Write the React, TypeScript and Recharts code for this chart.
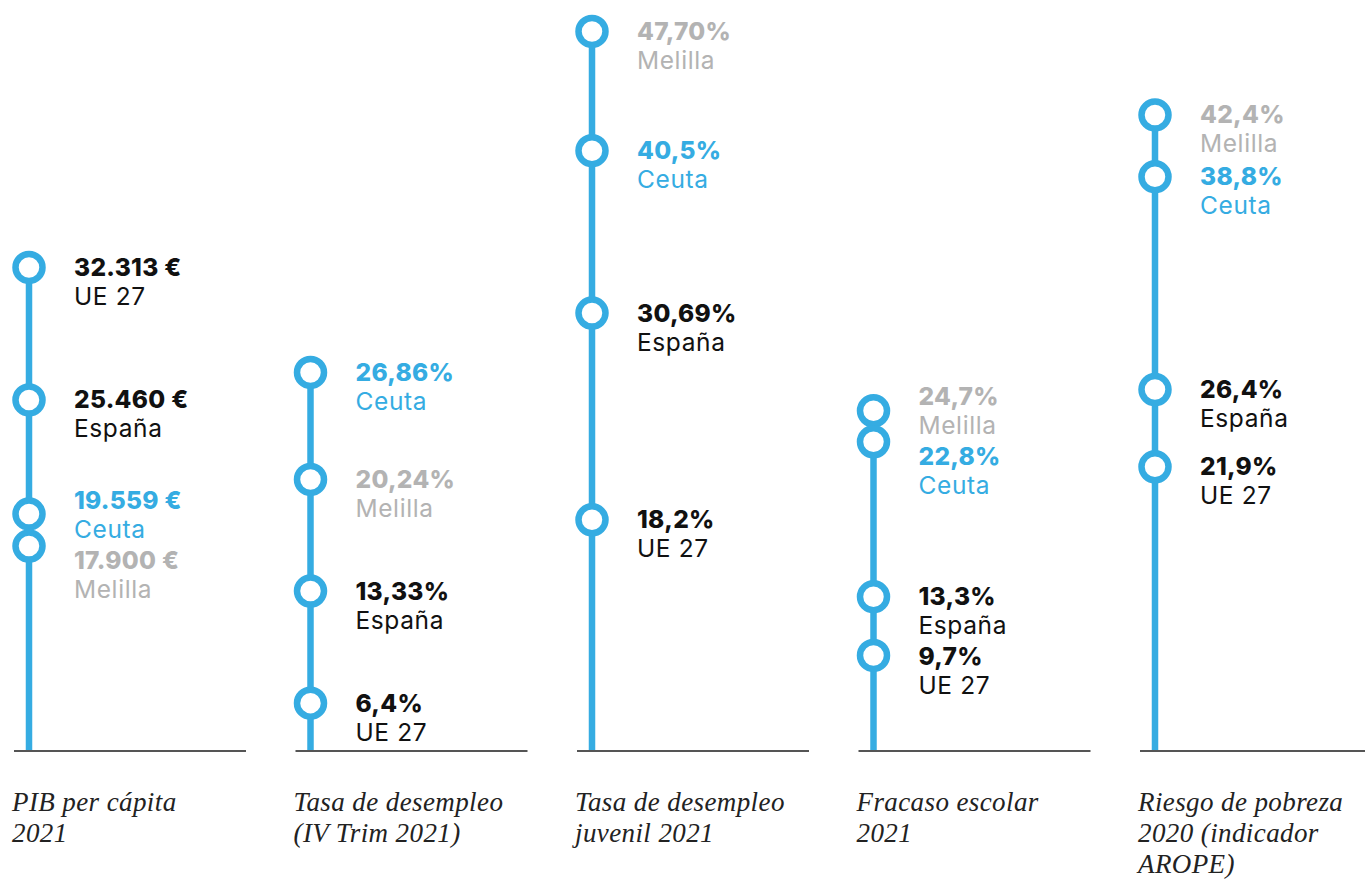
import React from 'react';
import { ComposedChart, Scatter, XAxis, YAxis, ReferenceLine } from 'recharts';

// panel titles (x ticks), one array of lines per panel
const CATEGORIES = [
  ['PIB per cápita', '2021'],
  ['Tasa de desempleo', '(IV Trim 2021)'],
  ['Tasa de desempleo', 'juvenil 2021'],
  ['Fracaso escolar', '2021'],
  ['Riesgo de pobreza', '2020 (indicador', 'AROPE)'],
];

const PIB_VALUES = [32313, 25460, 19559, 17900];
const PIB_LABELS = ['32.313 €', '25.460 €', '19.559 €', '17.900 €'];
const PIB_NAMES = ['UE 27', 'España', 'Ceuta', 'Melilla'];

const PARO_VALUES = [26.86, 20.24, 13.33, 6.4];
const PARO_LABELS = ['26,86%', '20,24%', '13,33%', '6,4%'];
const PARO_NAMES = ['Ceuta', 'Melilla', 'España', 'UE 27'];

const JUVENIL_VALUES = [47.7, 40.5, 30.69, 18.2];
const JUVENIL_LABELS = ['47,70%', '40,5%', '30,69%', '18,2%'];
const JUVENIL_NAMES = ['Melilla', 'Ceuta', 'España', 'UE 27'];

const FRACASO_VALUES = [24.7, 22.8, 13.3, 9.7];
const FRACASO_LABELS = ['24,7%', '22,8%', '13,3%', '9,7%'];
const FRACASO_NAMES = ['Melilla', 'Ceuta', 'España', 'UE 27'];

const AROPE_VALUES = [42.4, 38.8, 26.4, 21.9];
const AROPE_LABELS = ['42,4%', '38,8%', '26,4%', '21,9%'];
const AROPE_NAMES = ['Melilla', 'Ceuta', 'España', 'UE 27'];

// each panel has its own vertical scale
const DOMAINS = [
  [7350, 46150],
  [3.5, 49.9],
  [4.3, 49.6],
  [3.9, 49.9],
  [5.4, 49.1],
];

const BLUE = '#35ace2';
const NAME_COLORS: Record<string, string> = {
  Ceuta: BLUE,
  Melilla: '#b3b3b3',
  España: '#111111',
  'UE 27': '#111111',
};

const W = 1365;
const H = 879;
const AXIS_H = 129;
const PLOT_H = H - AXIS_H;
const LABEL_GAP = 60;

// push apart labels of points that sit too close together
function dodgeOffsets(values: number[], domain: number[], plotH: number, minGap: number) {
  const [lo, hi] = domain;
  const ys = values.map((v) => (plotH * (hi - v)) / (hi - lo));
  const order = ys.map((_, i) => i).sort((a, b) => ys[a] - ys[b]);
  let groups = order.map((i) => [i]);
  const place = (g: number[]) => {
    const c = g.reduce((s, i) => s + ys[i], 0) / g.length;
    return g.map((_, j) => c + (j - (g.length - 1) / 2) * minGap);
  };
  let merged = true;
  while (merged) {
    merged = false;
    for (let k = 0; k < groups.length - 1; k++) {
      const a = place(groups[k]);
      const b = place(groups[k + 1]);
      if (b[0] - a[a.length - 1] < minGap) {
        groups.splice(k, 2, groups[k].concat(groups[k + 1]));
        merged = true;
        break;
      }
    }
  }
  const offsets = new Array(values.length).fill(0);
  groups.forEach((g) => {
    const p = place(g);
    g.forEach((i, j) => {
      offsets[i] = p[j] - ys[i];
    });
  });
  return offsets;
}

const PANELS = [
  { values: PIB_VALUES, labels: PIB_LABELS, names: PIB_NAMES },
  { values: PARO_VALUES, labels: PARO_LABELS, names: PARO_NAMES },
  { values: JUVENIL_VALUES, labels: JUVENIL_LABELS, names: JUVENIL_NAMES },
  { values: FRACASO_VALUES, labels: FRACASO_LABELS, names: FRACASO_NAMES },
  { values: AROPE_VALUES, labels: AROPE_LABELS, names: AROPE_NAMES },
].map((p, slot) => {
  const shifts = dodgeOffsets(p.values, DOMAINS[slot], PLOT_H, LABEL_GAP);
  return p.values.map((value, i) => ({
    slot,
    value,
    label: p.labels[i],
    name: p.names[i],
    color: NAME_COLORS[p.names[i]],
    shift: shifts[i],
  }));
});

const Marker = (props: any) => {
  const { cx, cy, payload } = props;
  const ly = cy + payload.shift;
  return (
    <g>
      <circle cx={cx} cy={cy} r={13.5} fill="#fff" stroke={BLUE} strokeWidth={6.5} />
      <text
        x={cx + 45}
        y={ly + 8.5}
        fontFamily="Inter"
        fontWeight={800}
        fontSize={24.5}
        letterSpacing={0.3}
        fill={payload.color}
      >
        {payload.label}
      </text>
      <text x={cx + 45} y={ly + 37.5} fontFamily="Inter" fontSize={24.5} letterSpacing={0.6} fill={payload.color}>
        {payload.name}
      </text>
    </g>
  );
};

const TitleTick = (props: any) => {
  const { x, y, payload } = props;
  const lines = CATEGORIES[payload.value] || [];
  return (
    <g>
      <line x1={x - 15} x2={x + 217} y1={y + 1} y2={y + 1} stroke="#555" strokeWidth={2} />
      <text
        x={x - 17}
        y={y + 61}
        fontFamily="Liberation Serif"
        fontStyle="italic"
        fontSize={27}
        letterSpacing={0.4}
        fill="#222"
      >
        {lines.map((line, i) => (
          <tspan key={i} x={x - 17} dy={i === 0 ? 0 : 31}>
            {line}
          </tspan>
        ))}
      </text>
    </g>
  );
};

export default function App() {
  return (
    <div style={{ position: 'absolute', left: 0, top: 0, width: W, height: H, background: '#fff' }}>
      <ComposedChart width={W} height={H} margin={{ top: 0, right: 210, bottom: 0, left: 29 }}>
        <XAxis
          type="number"
          dataKey="slot"
          domain={[0, 4]}
          ticks={[0, 1, 2, 3, 4]}
          interval={0}
          height={AXIS_H}
          axisLine={false}
          tickLine={false}
          tickSize={0}
          tickMargin={0}
          tick={<TitleTick />}
        />
        {DOMAINS.map((d, i) => (
          <YAxis key={i} yAxisId={i} type="number" dataKey="value" domain={d} hide />
        ))}
        {PANELS.map((pts, i) => (
          <ReferenceLine
            key={`stick-${i}`}
            yAxisId={i}
            segment={[
              { x: i, y: DOMAINS[i][0] },
              { x: i, y: Math.max(...pts.map((p) => p.value)) },
            ]}
            stroke={BLUE}
            strokeWidth={6.5}
            ifOverflow="visible"
          />
        ))}
        {PANELS.map((pts, i) => (
          <Scatter
            key={`pts-${i}`}
            yAxisId={i}
            data={pts}
            dataKey="value"
            shape={<Marker />}
            isAnimationActive={false}
          />
        ))}
      </ComposedChart>
    </div>
  );
}
